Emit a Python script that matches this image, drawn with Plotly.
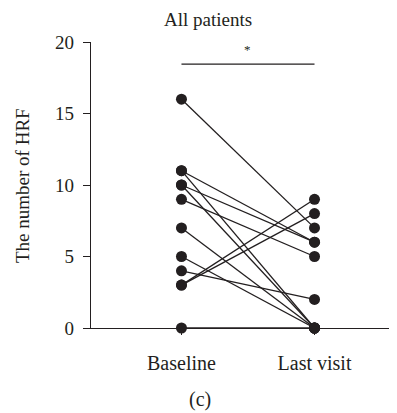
import plotly.graph_objects as go

categories = ["Baseline", "Last visit"]
baseline = [16, 11, 11, 10, 10, 9, 7, 5, 4, 3, 3, 0]
last_visit = [7, 6, 0, 6, 0, 5, 0, 0, 2, 9, 8, 0]
y_ticks = [0, 5, 10, 15, 20]

FONT = "Liberation Serif, DejaVu Serif, serif"
INK = "#231f20"

xs, ys = [], []
for b, l in zip(baseline, last_visit):
    xs += [0, 1, None]
    ys += [b, l, None]

fig = go.Figure()
fig.add_trace(go.Scatter(x=xs, y=ys, mode="lines",
                         line=dict(color=INK, width=1.3),
                         hoverinfo="skip", cliponaxis=False, showlegend=False))
fig.add_trace(go.Scatter(x=[0] * len(baseline) + [1] * len(last_visit),
                         y=baseline + last_visit, mode="markers",
                         marker=dict(color=INK, size=11),
                         cliponaxis=False, showlegend=False))

# significance bracket
fig.add_shape(type="line", x0=0, x1=1, y0=18.45, y1=18.45, xref="x", yref="y",
              line=dict(color=INK, width=1.3))
fig.add_annotation(x=0.5, y=19.5, xref="x", yref="y", text="*", showarrow=False,
                   xanchor="center", yanchor="middle",
                   font=dict(family=FONT, size=13, color=INK))

fig.add_annotation(x=0.382, y=1.077, xref="paper", yref="paper", text="All patients",
                   xanchor="center", yanchor="middle",
                   showarrow=False, font=dict(family=FONT, size=19, color=INK))
fig.add_annotation(x=-0.2255, y=0.5, xref="paper", yref="paper", text="The number of HRF",
                   xanchor="center", yanchor="middle",
                   textangle=-90, showarrow=False, font=dict(family=FONT, size=19, color=INK))
fig.add_annotation(x=0.356, y=-0.25, xref="paper", yref="paper", text="(c)",
                   xanchor="center", yanchor="middle",
                   showarrow=False, font=dict(family=FONT, size=20, color=INK))

# page body has an 8px margin, so the figure is shifted to compensate
fig.update_layout(
    width=389, height=405,
    margin=dict(l=83, r=0, t=34, b=85),
    paper_bgcolor="white", plot_bgcolor="white",
    font=dict(family=FONT, size=19, color=INK),
    xaxis=dict(range=[-0.68, 1.62], tickvals=[0, 1], ticktext=categories,
               tickfont=dict(family=FONT, size=20, color=INK),
               showline=True, linecolor=INK, linewidth=1.3, ticks="outside",
               ticklen=6, tickcolor=INK, tickwidth=1.3, showgrid=False, zeroline=False,
               ticklabelstandoff=11, fixedrange=True),
    yaxis=dict(range=[0, 20], tickvals=y_ticks, showline=True, linecolor=INK,
               tickfont=dict(family=FONT, size=19, color=INK),
               linewidth=1.3, ticks="outside", ticklen=7, tickcolor=INK, tickwidth=1.3,
               showgrid=False, zeroline=False, ticklabelstandoff=5, fixedrange=True),
)

fig.write_html("out.html")
